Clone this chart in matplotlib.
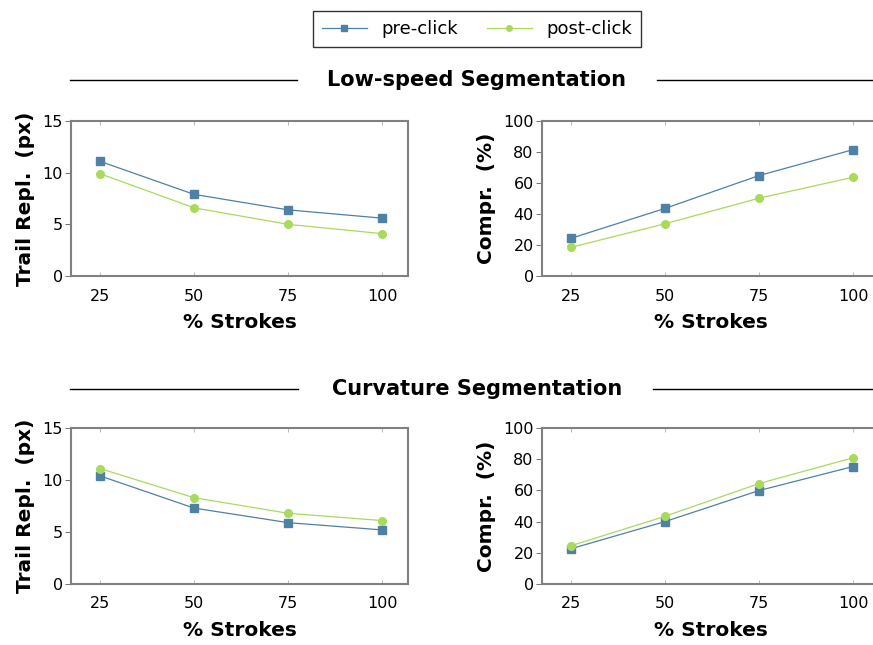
"""
    Trail replacement and compression vs. % strokes, two segmentation methods
"""
import numpy as np
import matplotlib
matplotlib.use("Agg")
import matplotlib.pyplot as plt
from matplotlib.lines import Line2D

plt.rcParams['font.family'] = ['DejaVu Sans']

strokes = [25, 50, 75, 100]
series_names = ["pre-click", "post-click"]

#low-speed segmentation
low_trail_pre = [11.1, 7.9, 6.4, 5.6]
low_trail_post = [9.9, 6.6, 5.0, 4.1]
low_compr_pre = [24.3, 43.6, 64.8, 81.5]
low_compr_post = [18.5, 33.7, 50.2, 63.7]

#curvature segmentation
curv_trail_pre = [10.4, 7.3, 5.9, 5.2]
curv_trail_post = [11.1, 8.3, 6.8, 6.1]
curv_compr_pre = [22.6, 40.0, 59.9, 75.3]
curv_compr_post = [24.5, 43.4, 64.4, 80.9]

section_titles = ["Low-speed Segmentation", "Curvature Segmentation"]

blue = "#4f80a6"
green = "#a9da5c"
gray = "#808080"

W, H = 873, 645
fig = plt.figure(figsize=(W / 100, H / 100), dpi=100)

def px_axes(left, top, right, bottom):
    """
        Add an axes given its pixel box
    """
    return fig.add_axes([left / W, 1 - bottom / H, (right - left) / W, (bottom - top) / H])

def draw_panel(ax, pre, post, ymax, yticks, ylabel):
    ax.plot(strokes, pre, color=blue, lw=0.9, marker='s', ms=5.5, mec=blue, mfc=blue)
    ax.plot(strokes, post, color=green, lw=0.9, marker='o', ms=5.5, mec=green, mfc=green)
    ax.set_xlim(17.3, 106.9)
    ax.set_ylim(0, ymax)
    ax.set_xticks(strokes)
    ax.set_yticks(yticks)
    for s in ax.spines.values():
        s.set_color(gray)
        s.set_linewidth(1.5)
    ax.tick_params(axis='x', direction='in', top=True, length=3, width=0.6, color="#b0b0b0",
                   labelsize=11.5, pad=9)
    ax.tick_params(axis='y', direction='out', length=4, width=0.6, color="#606060",
                   labelsize=11.5, pad=2)
    ax.set_xlabel("% Strokes", fontsize=14.5, fontweight='bold', labelpad=7)
    ax.set_ylabel(ylabel, fontsize=14.5, fontweight='bold', labelpad=5)

trail_ticks = [0, 5, 10, 15]
compr_ticks = [0, 20, 40, 60, 80, 100]

rows = [
    (121, 276, low_trail_pre, low_trail_post, low_compr_pre, low_compr_post),
    (428, 584, curv_trail_pre, curv_trail_post, curv_compr_pre, curv_compr_post),
]
for top, bottom, tp, tq, cp, cq in rows:
    ax1 = px_axes(71, top, 408, bottom)
    draw_panel(ax1, tp, tq, 15, trail_ticks, "Trail Repl.  (px)")
    ax2 = px_axes(542, top, 879, bottom)
    draw_panel(ax2, cp, cq, 100, compr_ticks, "Compr.  (%)")

#section headers with rules on both sides
header_y = [80, 389]
header_gaps = [(297, 657), (298, 653)]
for title, y, (g0, g1) in zip(section_titles, header_y, header_gaps):
    fig.text(477 / W, 1 - y / H, title, ha='center', va='center', fontsize=15, fontweight='bold')
    fig.add_artist(Line2D([70 / W, g0 / W], [1 - y / H] * 2, color='black', lw=1))
    fig.add_artist(Line2D([g1 / W, 1.0], [1 - y / H] * 2, color='black', lw=1))

handles = [Line2D([], [], color=blue, lw=0.9, marker='s', ms=4),
           Line2D([], [], color=green, lw=0.9, marker='o', ms=4)]
leg = fig.legend(handles, series_names, loc='center', bbox_to_anchor=(477 / W, 1 - 29 / H),
                 ncol=2, fontsize=13, frameon=True, fancybox=False, edgecolor='black',
                 handlelength=2.5, columnspacing=1.6, borderpad=0.5)
leg.get_frame().set_linewidth(1.0)

fig.savefig("out.png", dpi=100)
